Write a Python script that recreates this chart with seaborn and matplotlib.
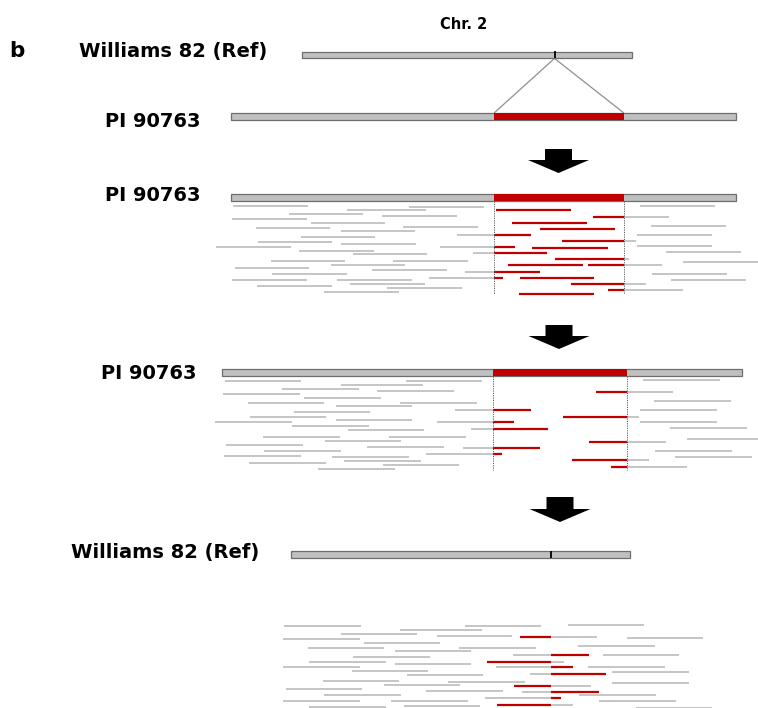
import matplotlib
matplotlib.use("Agg")
import matplotlib.pyplot as plt
import pandas as pd
import seaborn as sns

# ---------------- data ----------------
# Chromosome segments (local units along the drawn segment)
TOP_REF_LEN, TOP_REF_SITE = 330, 253          # Williams 82 reference, insertion site
PI_LEN_1, PI_INS_1 = 505, (263, 393)          # PI 90763 with insertion (top + first read panel)
PI_LEN_2, PI_INS_2 = 520, (271, 405)          # PI 90763, second read panel
REF_LEN_3, REF_SITE_3 = 339, 260              # Williams 82 reference, bottom panel

# Reads aligned to PI 90763 (panel 1): start, end, stacking lane
P1_START = [2, 178, 116, 58, 151, 1, 80, 25, 172, 110, 226, 70, 27, 110, -15, 209, 68, 242, 122, 40,
            162, 100, 4, 141, 234, 41, 198, 1, 106, 26, 119, 156, 93,
            265, 362, 409, 281, 309, 420, 406, 331, 301, 406, 435, 324, 277, 357, 452, 421, 289, 440,
            340, 377, 288]
P1_END = [77, 253, 195, 132, 226, 76, 154, 99, 247, 184, 300, 144, 101, 185, 60, 284, 143, 316, 196, 114,
          237, 174, 78, 216, 309, 116, 272, 76, 181, 101, 194, 231, 168,
          340, 438, 484, 356, 384, 495, 481, 405, 377, 481, 510, 398, 352, 431, 527, 496, 363, 515,
          415, 452, 363]
P1_LANE = [9, 10, 13, 17, 19, 22, 26, 31, 30, 34, 38, 40, 45, 47, 50, 50, 54, 56, 57, 64,
           64, 68, 71, 73, 75, 77, 81, 83, 83, 89, 87, 91, 95,
           13, 20, 9, 26, 32, 29, 38, 44, 51, 49, 55, 62, 68, 68, 65, 77, 81, 83,
           87, 93, 97]

# Reads kept after removing those lying wholly inside the insertion (panel 2)
P2_START = [3, 184, 119, 60, 155, 1, 82, 26, 178, 114, 233, 72, 28, 114, -7, 215, 70, 249, 126, 41,
            167, 103, 4, 145, 241, 42, 204, 2, 110, 27, 122, 161, 96,
            421, 374, 432, 418, 341, 418, 448, 367, 465, 433, 453, 350, 389]
P2_END = [79, 260, 201, 137, 232, 78, 159, 102, 255, 190, 309, 148, 104, 190, 70, 292, 147, 326, 202, 118,
          244, 179, 81, 222, 318, 119, 280, 79, 187, 104, 199, 237, 173,
          498, 451, 509, 495, 417, 495, 525, 444, 542, 510, 530, 427, 465]
P2_LANE = [9, 9, 13, 17, 19, 22, 26, 31, 31, 34, 38, 40, 45, 48, 50, 50, 54, 57, 58, 65,
           65, 69, 73, 75, 76, 79, 82, 84, 85, 91, 89, 93, 97,
           8, 20, 29, 38, 45, 50, 56, 70, 67, 79, 85, 88, 95]

# Reads re-aligned to Williams 82 (panel 3); clip side marks the soft-clipped (red) part
P3_START = [-7, 174, 109, 50, 146, -8, 73, 17, 168, 104, 62, 18, 104, -8, 61, 116, 32, 157, 93, -5,
            135, 33, -8, 100, 18, 113,
            277, 229, 336, 287, 222, 312, 196, 205, 297, 239, 321, 321, 223, 231, 288, 194, 308, 206, 345]
P3_END = [70, 250, 191, 126, 221, 69, 149, 93, 245, 180, 139, 95, 180, 69, 137, 192, 108, 234, 169, 71,
          212, 110, 69, 177, 95, 189,
          353, 306, 412, 364, 298, 388, 273, 282, 374, 315, 398, 398, 300, 308, 365, 270, 385, 282, 421]
P3_LANE = [71, 71, 75, 79, 81, 84, 88, 93, 93, 96, 102, 107, 109, 112, 116, 120, 126, 127, 130, 134,
           136, 140, 146, 146, 152, 151,
           70, 82, 83, 91, 100, 100, 107, 112, 112, 119, 117, 128, 131, 137, 140, 143, 146, 150, 153]
P3_CLIP = [""] * 26 + ["", "L", "", "", "R", "", "L", "R", "", "R", "", "", "L", "R", "", "R", "", "L", ""]

LABEL_REF = "Williams 82 (Ref)"
LABEL_PI = "PI 90763"
LABEL_CHR = "Chr. 2"
PANEL_TAG = "b"

# ---------------- style ----------------
GRAY_BAR = "#c0c0c0"
BAR_EDGE = "#6e6e6e"
RED = "#c00000"
READ_GRAY = "#c3c3c3"
FONT = "DejaVu Sans"

sns.set_theme(style="white")
plt.rcParams["font.family"] = [FONT]
plt.rcParams["lines.solid_capstyle"] = "butt"

W, H = 758, 708
fig = plt.figure(figsize=(W / 100, H / 100), dpi=100)
ax = fig.add_axes([0, 0, 1, 1])

# panel origins on the canvas (left end of segment, lane zero)
TOP_REF_XY = (301.5, 55.0)
TOP_PI_XY = (231.0, 116.5)
P1_XY = (231.0, 197.0)
P2_XY = (222.0, 372.0)
P3_XY = (291.0, 554.7)
BAR_H = 6.8


def chromosome(origin, length, ins=None, site=None, dy=0.6):
    x0, y0 = origin
    yc = y0 + dy
    ax.barh(yc, length, left=x0, height=BAR_H, color=GRAY_BAR, edgecolor=BAR_EDGE,
            linewidth=0.9, zorder=3)
    if ins is not None:
        ax.barh(yc, ins[1] - ins[0], left=x0 + ins[0], height=BAR_H + 0.4, color=RED,
                linewidth=0, zorder=4)
    if site is not None:
        ax.vlines(x0 + site, yc - BAR_H / 2 - 0.8, yc + BAR_H / 2, color="black", lw=1.3, zorder=5)
    return yc


def split_inside(starts, ends, lanes, ins):
    segs = []
    a, b = ins
    for s, e, l in zip(starts, ends, lanes):
        if s < a:
            segs.append((s, min(e, a), l, "gray"))
        if e > a and s < b:
            segs.append((max(s, a), min(e, b), l, "red"))
        if e > b:
            segs.append((max(s, b), e, l, "gray"))
    return segs


def split_clip(starts, ends, lanes, clips, site):
    segs = []
    for s, e, l, c in zip(starts, ends, lanes, clips):
        if c == "L":
            segs += [(s, site, l, "red"), (site, e, l, "gray")]
        elif c == "R":
            segs += [(s, site, l, "gray"), (site, e, l, "red")]
        else:
            segs.append((s, e, l, "gray"))
    return segs


rows = []
for origin, segs in [
    (P1_XY, split_inside(P1_START, P1_END, P1_LANE, PI_INS_1)),
    (P2_XY, split_inside(P2_START, P2_END, P2_LANE, PI_INS_2)),
    (P3_XY, split_clip(P3_START, P3_END, P3_LANE, P3_CLIP, REF_SITE_3)),
]:
    for s, e, l, kind in segs:
        sid = len(rows)
        rows.append(dict(x=origin[0] + s, y=origin[1] + l, seg=sid, kind=kind))
        rows.append(dict(x=origin[0] + e, y=origin[1] + l, seg=sid, kind=kind))
reads = pd.DataFrame(rows)

sns.lineplot(data=reads, x="x", y="y", units="seg", estimator=None, sort=False,
             hue="kind", hue_order=["gray", "red"], palette={"gray": READ_GRAY, "red": RED},
             size="kind", sizes={"gray": 1.35, "red": 1.6}, legend=False, ax=ax, zorder=2)

# chromosome bars
ref_y = chromosome(TOP_REF_XY, TOP_REF_LEN, site=TOP_REF_SITE, dy=0.0)
pi_y = chromosome(TOP_PI_XY, PI_LEN_1, ins=PI_INS_1, dy=0.0)
p1_y = chromosome(P1_XY, PI_LEN_1, ins=PI_INS_1)
p2_y = chromosome(P2_XY, PI_LEN_2, ins=PI_INS_2)
chromosome((P3_XY[0], P3_XY[1]), REF_LEN_3, site=REF_SITE_3, dy=0.0)

# insertion lines from the reference site to the insertion borders
site_x = TOP_REF_XY[0] + TOP_REF_SITE
for bx in PI_INS_1:
    ax.plot([site_x, TOP_PI_XY[0] + bx], [ref_y + BAR_H / 2, pi_y - BAR_H / 2],
            color="#8f8f8f", lw=0.9, zorder=1)

# dotted insertion borders below the read panels
for origin, ins, yc, depth in [(P1_XY, PI_INS_1, p1_y, 97), (P2_XY, PI_INS_2, p2_y, 98)]:
    for bx in ins:
        ax.vlines(origin[0] + bx, yc + BAR_H / 2, origin[1] + depth, color="#5a5a5a",
                  lw=0.7, linestyles=(0, (1.2, 1.2)), zorder=3)

# block arrows between steps
for xc, ytop, ybot in [(558.5, 149, 173), (559, 325, 349), (560, 497, 522)]:
    ax.arrow(xc, ytop, 0, ybot - ytop, width=27, head_width=61, head_length=13,
             length_includes_head=True, color="black", lw=0, zorder=5)

# labels
txt = dict(fontweight="bold", va="baseline", ha="left", color="black", family=FONT)
ax.text(9, 57, PANEL_TAG, fontsize=15.5, **txt)
ax.text(464, 29, LABEL_CHR, fontsize=10.5, **{**txt, "ha": "center"})
ax.text(79, 57, LABEL_REF, fontsize=14, **txt)
ax.text(105, 127, LABEL_PI, fontsize=14, **txt)
ax.text(105, 201, LABEL_PI, fontsize=14, **txt)
ax.text(101, 379, LABEL_PI, fontsize=14, **txt)
ax.text(71, 558, LABEL_REF, fontsize=14, **txt)

ax.set_xlim(0, W)
ax.set_ylim(H, 0)
ax.axis("off")

fig.savefig("out.png", dpi=100, facecolor="white")
